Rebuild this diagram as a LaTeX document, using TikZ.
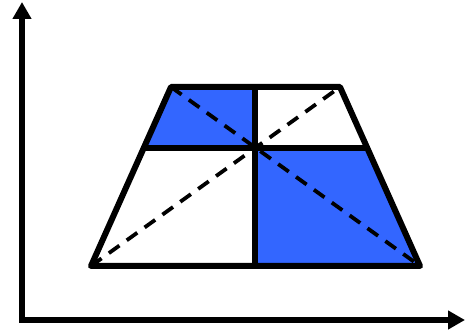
\documentclass[tikz,border=0pt]{standalone}
\usetikzlibrary{arrows.meta}
\definecolor{cellblue}{RGB}{51,102,255}
\begin{document}
\begin{tikzpicture}[x=1pt,y=-1pt,
  axis/.style={line width=5.5pt,-{Triangle[width=18pt,length=17pt]}},
  edge/.style={line width=6pt,line join=round},
  diag/.style={line width=3.8pt,dash pattern=on 13pt off 9pt},
  cell/.style={fill=cellblue,draw=none}]
\useasboundingbox (0,0) rectangle (467,331);
\coordinate (O) at (22,320);
\coordinate (Y) at (22,2);
\coordinate (X) at (465,320);
\coordinate (BL) at (91,266);
\coordinate (BR) at (420,266);
\coordinate (TL) at (171,87);
\coordinate (TR) at (340,87);
\coordinate (ML) at (143.7,148);
\coordinate (MR) at (367.3,148);
\coordinate (TM) at (255,87);
\coordinate (BM) at (255,266);
\coordinate (C) at (255,148);
% blue cells
\fill[cell] (TL) -- (TM) -- (C) -- (ML) -- cycle;
\fill[cell] (C) -- (MR) -- (BR) -- (BM) -- cycle;
% dashed diagonals
\draw[diag] (TL) -- (BR);
\draw[diag] (BL) -- (TR);
% trapezoid and grid
\draw[edge] (BL) -- (TL) -- (TR) -- (BR) -- cycle;
\draw[edge] (ML) -- (MR);
\draw[edge] (TM) -- (BM);
% axes
\draw[axis] (O) -- (Y);
\draw[axis] ([xshift=-2.75pt]O) -- (X);
\end{tikzpicture}
\end{document}
